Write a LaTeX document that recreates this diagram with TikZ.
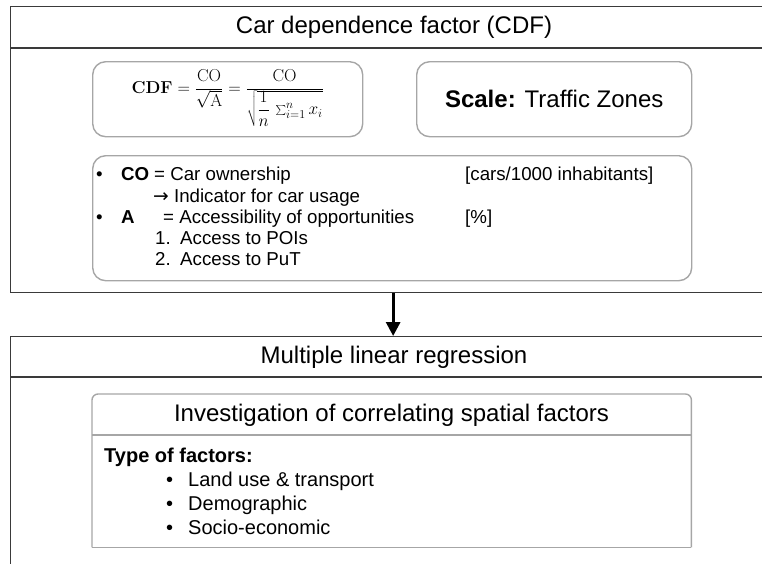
\documentclass[tikz,border=0pt]{standalone}
\usepackage[no-math]{fontspec}
\setmainfont{Liberation Sans}
\newfontfamily\arrowfont{DejaVu Sans}
\usetikzlibrary{arrows.meta}
\definecolor{framecol}{HTML}{3A3A3A}
\definecolor{boxcol}{HTML}{A6A6A6}
\tikzset{
  frame/.style={draw=framecol, line width=1.3pt, inner sep=0pt, anchor=north west},
  rbox/.style={draw=boxcol, line width=1.4pt, rounded corners=13pt, inner sep=0pt, anchor=north west},
  ttl/.style={font=\fontsize{24}{28}\selectfont, inner sep=0pt},
  lt/.style={font=\fontsize{18.7}{22}\selectfont, anchor=base west, inner sep=0pt},
  bt/.style={font=\fontsize{20}{24}\selectfont, anchor=base west, inner sep=0pt},
  flow/.style={line width=3pt, -{Triangle[width=14pt,length=14pt]}},
}
\begin{document}
\begin{tikzpicture}[x=1pt,y=-1pt]
\useasboundingbox (0,0) rectangle (762,563);
\clip (0,0) rectangle (762,563);
% top frame
\node[frame, minimum width=765pt, minimum height=286pt] (cdf) at (10,6) {};
\draw[framecol, line width=1.3pt] (10,48) -- (775,48);
\node[ttl] (cdft) at (394,27) {Car dependence factor (CDF)};
% formula box
\node[rbox, minimum width=270pt, minimum height=75pt] (fbox) at (92,61) {};
\node[inner sep=0pt, font=\fontsize{18.5}{22}\selectfont] (formula) at ([yshift=1pt]fbox.center)
  {$\displaystyle \mathbf{CDF}=\frac{\mathrm{CO}}{\sqrt{\mathrm{A}}}=\frac{\mathrm{CO}}{\sqrt{{\displaystyle\frac{1}{n}}\,\textstyle\sum_{i=1}^{n}x_i}}$};
% scale box
\node[rbox, minimum width=275pt, minimum height=75pt] (sbox) at (416,61) {};
\node[ttl] (scale) at (sbox.center) {\textbf{Scale:} Traffic Zones};
% list box
\node[rbox, minimum width=599pt, minimum height=125pt] (lbox) at (92,155) {};
\node[lt] (b1) at (96,180) {•};
\node[lt] (co) at (121,180) {\textbf{CO}};
\node[lt] (cod) at (154,180) {= Car ownership};
\node[lt] (cou) at (465,180) {[cars/1000 inhabitants]};
\node[lt] (ind) at (153,202) {{\arrowfont →} Indicator for car usage};
\node[lt] (b2) at (96,223) {•};
\node[lt] (a) at (121,223) {\textbf{A}};
\node[lt] (ad) at (163,223) {= Accessibility of opportunities};
\node[lt] (au) at (465,223) {[\%]};
\node[lt] (n1) at (155,244) {1.};
\node[lt] (p1) at (180,244) {Access to POIs};
\node[lt] (n2) at (155,265) {2.};
\node[lt] (p2) at (180,265) {Access to PuT};
% bottom frame
\node[frame, minimum width=765pt, minimum height=290pt] (mlr) at (10,336) {};
\draw[framecol, line width=1.3pt] (10,377) -- (775,377);
\node[ttl] (mlrt) at (394,357) {Multiple linear regression};
% inner box
\node[inner sep=0pt, minimum width=599pt, minimum height=153pt, anchor=north west] (inv) at (92,394) {};
\draw[boxcol, line width=1.4pt, rounded corners=6pt] (inv.south west) -- (inv.north west) -- (inv.north east) -- (inv.south east);
\draw[boxcol, line width=1.4pt] (inv.south west) -- (inv.south east);
\draw[boxcol, line width=1.4pt] (92,435) -- (691,435);
\node[ttl] (invt) at (391.5,415) {Investigation of correlating spatial factors};
\node[bt] (tof) at (104,462) {\textbf{Type of factors:}};
\node[bt] (c1) at (166,486) {•};
\node[bt] (f1) at (188,486) {Land use \& transport};
\node[bt] (c2) at (166,510) {•};
\node[bt] (f2) at (188,510) {Demographic};
\node[bt] (c3) at (166,534) {•};
\node[bt] (f3) at (188,534) {Socio-economic};
% connector
\draw[flow] (cdf.south) -- (mlr.north);
\end{tikzpicture}
\end{document}
